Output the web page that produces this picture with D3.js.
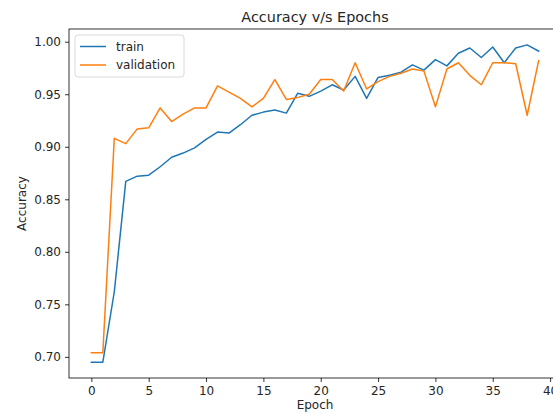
<!DOCTYPE html>
<html>
<head>
<meta charset="utf-8">
<script src="https://cdn.jsdelivr.net/npm/d3@7"></script>
<style>
  body { margin: 0; background: #fff; }
  svg { display: block; overflow: hidden; }
  text { font-family: "DejaVu Sans", sans-serif; fill: #262626; }
</style>
</head>
<body>
<div id="chart"></div>
<script>
// data
var epochs = [0,1,2,3,4,5,6,7,8,9,10,11,12,13,14,15,16,17,18,19,20,21,22,23,24,25,26,27,28,29,30,31,32,33,34,35,36,37,38,39];
var train = [0.695,0.695,0.762,0.867,0.872,0.873,0.881,0.890,0.894,0.899,0.907,0.914,0.913,0.921,0.930,0.933,0.935,0.932,0.951,0.948,
             0.953,0.959,0.954,0.967,0.946,0.966,0.968,0.971,0.978,0.973,0.983,0.977,0.989,0.994,0.985,0.995,0.980,0.994,0.997,0.991];
var validation = [0.704,0.704,0.908,0.903,0.917,0.918,0.937,0.924,0.931,0.937,0.937,0.958,0.952,0.946,0.938,0.946,0.964,0.945,0.947,0.950,
                  0.964,0.964,0.953,0.980,0.955,0.962,0.967,0.970,0.974,0.972,0.938,0.974,0.980,0.968,0.959,0.980,0.980,0.979,0.930,0.982];
var xTicks = [0,5,10,15,20,25,30,35,40];
var yTicks = [0.70,0.75,0.80,0.85,0.90,0.95,1.00];
var seriesNames = ["train","validation"];
var seriesColors = ["#1f77b4","#ff7f0e"];

var W = 553, H = 414;
// plot area (axes box), right edge runs past the picture like the reference
var pLeft = 69, pRight = 561, pTop = 29, pBottom = 378;

var svg = d3.select("#chart").append("svg")
    .attr("width", W)
    .attr("height", H);

// matplotlib style 5% margins
var xMin = d3.min(epochs), xMax = d3.max(epochs);
var xPad = (xMax - xMin) * 0.05;
var allVals = train.concat(validation);
var yMin = d3.min(allVals), yMax = d3.max(allVals);
var yPad = (yMax - yMin) * 0.05;

var x = d3.scaleLinear().domain([xMin - xPad, xMax + xPad]).range([pLeft, pRight]);
var y = d3.scaleLinear().domain([yMin - yPad, yMax + yPad]).range([pBottom, pTop]);

var series = [train, validation];
var line = d3.line()
    .x(function(d, i) { return x(epochs[i]); })
    .y(function(d) { return y(d); });

series.forEach(function(s, k) {
  svg.append("path")
    .datum(s)
    .attr("d", line)
    .attr("fill", "none")
    .attr("stroke", seriesColors[k])
    .attr("stroke-width", 1.5)
    .attr("stroke-linejoin", "round")
    .attr("stroke-linecap", "square");
});

// axes
var xAxis = d3.axisBottom(x).tickValues(xTicks).tickSize(4).tickPadding(4).tickFormat(d3.format("d"));
var gx = svg.append("g")
    .attr("transform", "translate(0," + pBottom + ")")
    .call(xAxis);
gx.select(".domain").remove();
gx.selectAll(".tick line").attr("stroke", "#000").attr("stroke-width", 0.8);
gx.selectAll(".tick text").style("font-size", "12px").style("font-family", "DejaVu Sans").attr("fill", "#262626");

var yAxis = d3.axisLeft(y).tickValues(yTicks).tickSize(4).tickPadding(4).tickFormat(d3.format(".2f"));
var gy = svg.append("g")
    .attr("transform", "translate(" + pLeft + ",0)")
    .call(yAxis);
gy.select(".domain").remove();
gy.selectAll(".tick line").attr("stroke", "#000").attr("stroke-width", 0.8);
gy.selectAll(".tick text").style("font-size", "12px").style("font-family", "DejaVu Sans").attr("fill", "#262626");

// frame
svg.append("rect")
    .attr("x", pLeft)
    .attr("y", pTop)
    .attr("width", pRight - pLeft)
    .attr("height", pBottom - pTop)
    .attr("fill", "none")
    .attr("stroke", "#000")
    .attr("stroke-width", 0.8);

// titles
svg.append("text")
    .attr("x", (pLeft + pRight) / 2)
    .attr("y", 22)
    .attr("text-anchor", "middle")
    .style("font-size", "14.4px")
    .text("Accuracy v/s Epochs");

svg.append("text")
    .attr("x", (pLeft + pRight) / 2)
    .attr("y", 409)
    .attr("text-anchor", "middle")
    .style("font-size", "12px")
    .text("Epoch");

svg.append("text")
    .attr("transform", "translate(26," + ((pTop + pBottom) / 2) + ") rotate(-90)")
    .attr("text-anchor", "middle")
    .style("font-size", "12px")
    .text("Accuracy");

// legend
var lg = svg.append("g").attr("transform", "translate(75,35)");
lg.append("rect")
    .attr("width", 109)
    .attr("height", 42)
    .attr("rx", 3)
    .attr("fill", "#fff")
    .attr("fill-opacity", 0.8)
    .attr("stroke", "#d0d0d0")
    .attr("stroke-width", 0.8);
seriesNames.forEach(function(name, k) {
  var yy = 11.5 + k * 18.5;
  lg.append("line")
    .attr("x1", 5).attr("x2", 31)
    .attr("y1", yy).attr("y2", yy)
    .attr("stroke", seriesColors[k])
    .attr("stroke-width", 1.5);
  lg.append("text")
    .attr("x", 41)
    .attr("y", yy + 4.3)
    .style("font-size", "12px")
    .text(name);
});
</script>
</body>
</html>
